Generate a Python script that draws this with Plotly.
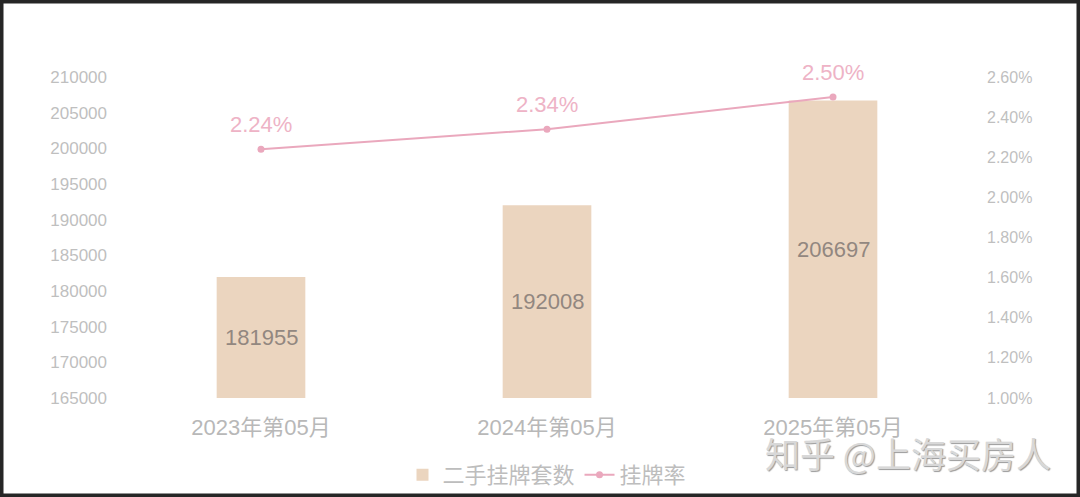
import plotly.graph_objects as go

categories = ["2023年第05月", "2024年第05月", "2025年第05月"]
listings = [181955, 192008, 206697]
listing_rate = [2.24, 2.34, 2.50]
left_ticks = list(range(165000, 210001, 5000))
right_ticks = [1.0, 1.2, 1.4, 1.6, 1.8, 2.0, 2.2, 2.4, 2.6]
y_min, y_max = 165000, 210000
y2_min, y2_max = 1.0, 2.6

W, H = 1080, 497
L, R, T, B = 118, 104, 77, 99
PW, PH = W - L - R, H - T - B

FONT = "Liberation Sans, Noto Sans CJK SC, sans-serif"
CJK = "Noto Sans CJK SC, sans-serif"

fig = go.Figure()
fig.add_trace(go.Bar(
    x=categories, y=listings, name="二手挂牌套数",
    marker=dict(color="#ebd5bf", line=dict(width=0)),
    yaxis="y",
))
fig.add_trace(go.Scatter(
    x=categories, y=listing_rate, name="挂牌率", yaxis="y2",
    mode="lines+markers",
    line=dict(color="#eaa8bd", width=2),
    marker=dict(color="#eaa8bd", size=7),
))
# bar value labels centred in the visible part of each bar
for c, v in zip(categories, listings):
    fig.add_annotation(x=c, y=(v + y_min) / 2, xref="x", yref="y", text=str(v),
                       showarrow=False,
                       font=dict(color="#928780", size=22, family=FONT))
# rate labels above the points
for c, v in zip(categories, listing_rate):
    fig.add_annotation(x=c, y=v, xref="x", yref="y2", text=f"{v:.2f}%",
                       showarrow=False, yshift=25,
                       font=dict(color="#eeb3c6", size=22, family=FONT))

fig.add_annotation(xref="paper", yref="paper", x=(1053 - L) / PW, y=(T + PH - 453) / PH,
                   xanchor="right", yanchor="middle", showarrow=False,
                   text="知乎 @上海买房人",
                   font=dict(color="#d8d8d8", size=35, family=CJK,
                             shadow="1px 1px 1px #9a9a9a"))

# dark photo frame
fig.add_shape(type="rect", xref="paper", yref="paper",
              x0=-L / PW, x1=1 + R / PW, y0=-B / PH, y1=1 + T / PH,
              line=dict(color="#262626", width=7), fillcolor="rgba(0,0,0,0)", layer="above")

fig.update_layout(
    width=W, height=H,
    margin=dict(l=L, r=R, t=T, b=B, autoexpand=False),
    paper_bgcolor="white", plot_bgcolor="white",
    bargap=0.69,
    showlegend=True,
    legend=dict(orientation="h", x=0.5, xanchor="center",
                yref="container", y=(H - 475) / H, yanchor="middle",
                bgcolor="rgba(0,0,0,0)",
                font=dict(color="#bdbdbd", size=22, family=CJK), itemwidth=30,
                traceorder="normal"),
    xaxis=dict(showgrid=False, showline=False, zeroline=False,
               tickfont=dict(color="#b8b8b8", size=22, family=FONT),
               ticklabelstandoff=14),
    yaxis=dict(range=[y_min, y_max], tickvals=left_ticks,
               ticktext=[str(v) for v in left_ticks], showgrid=False,
               zeroline=False, showline=False,
               tickfont=dict(color="#bfbfbf", size=17, family=FONT),
               ticklabelstandoff=10),
    yaxis2=dict(range=[y2_min, y2_max], tickvals=right_ticks,
                ticktext=[f"{v:.2f}%" for v in right_ticks],
                overlaying="y", side="right", showgrid=False, zeroline=False,
                showline=False,
                tickfont=dict(color="#bfbfbf", size=16, family=FONT),
                ticklabelstandoff=10),
)

fig.write_html("out.html", config={"displayModeBar": False},
               post_script="document.body.style.margin='0px';document.body.style.overflow='hidden';")
